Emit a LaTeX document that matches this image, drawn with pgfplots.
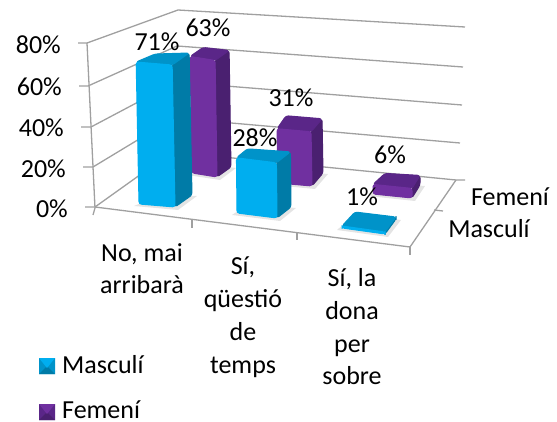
\documentclass[border=0pt]{standalone}
\usepackage{fontspec}
\setmainfont{Carlito}
\usepackage{pgfplots}
\pgfplotsset{compat=1.18}
\definecolor{gl}{HTML}{A0A0A0}
\definecolor{Mf}{HTML}{00AEEF}
\definecolor{Ms}{HTML}{007BA7}
\definecolor{Mt}{HTML}{0093C9}
\definecolor{Ff}{HTML}{7030A0}
\definecolor{Fs}{HTML}{4A2070}
\definecolor{Ft}{HTML}{5A2688}
\pgfplotsset{
  face/.style={fill=#1,draw=#1,line width=1pt,line join=round,rounded corners=2.5pt,no markers,forget plot},
  M front/.style={face=Mf}, M side/.style={face=Ms}, M top/.style={face=Mt},
  F front/.style={face=Ff}, F side/.style={face=Fs}, F top/.style={face=Ft},
  flat/.style={fill=#1,draw=none,no markers,forget plot},
  grid line/.style={draw=gl,line width=1.3pt,no markers,forget plot},
}
\def\getptaux#1/#2\relax#3{\expandafter\def\csname X#3\endcsname{#1}\expandafter\def\csname Y#3\endcsname{#2}}
\def\getpt#1#2{\getptaux#1\relax{#2}}
% #1 series, #2 value (percent), #3 px per percent, #4 lean per percent, #5-#8 floor corners FL FR BR BL
\newcommand\cubebar[8]{%
  \getpt{#5}{a}\getpt{#6}{b}\getpt{#7}{c}\getpt{#8}{d}%
  \pgfmathsetmacro\TXa{\Xa-#2*#4}\pgfmathsetmacro\TYa{\Ya-#2*#3}%
  \pgfmathsetmacro\TXb{\Xb-#2*#4}\pgfmathsetmacro\TYb{\Yb-#2*#3}%
  \pgfmathsetmacro\TXc{\Xc-#2*#4}\pgfmathsetmacro\TYc{\Yc-#2*#3}%
  \pgfmathsetmacro\TXd{\Xd-#2*#4}\pgfmathsetmacro\TYd{\Yd-#2*#3}%
  \pgfmathsetmacro\SXa{\Xa-5}\pgfmathsetmacro\SYa{\Ya+2}%
  \pgfmathsetmacro\SXb{\Xb+3}\pgfmathsetmacro\SYb{\Yb+3}%
  \pgfmathsetmacro\SXc{\Xc+5}\pgfmathsetmacro\SYc{\Yc+1}%
  \pgfmathsetmacro\MXf{(\Xa+\Xb)/2}\pgfmathsetmacro\MYf{(\Ya+\Yb)/2}%
  \pgfmathsetmacro\MXs{(\Xb+\Xc)/2}\pgfmathsetmacro\MYs{(\Yb+\Yc)/2}%
  \pgfmathsetmacro\MXt{(\TXa+\TXb)/2}\pgfmathsetmacro\MYt{(\TYa+\TYb)/2}%
  \addplot[fill=black!35,draw=none,opacity=.3,no markers,forget plot] coordinates {(\SXa,\SYa)(\SXb,\SYb)(\SXc,\SYc)(\Xd,\Yd)(\SXa,\SYa)};
  \addplot[#1 side] coordinates {(\MXs,\MYs)(\Xc,\Yc)(\TXc,\TYc)(\TXb,\TYb)(\Xb,\Yb)(\MXs,\MYs)};
  \addplot[#1 top] coordinates {(\MXt,\MYt)(\TXb,\TYb)(\TXc,\TYc)(\TXd,\TYd)(\TXa,\TYa)(\MXt,\MYt)};
  \addplot[#1 front] coordinates {(\MXf,\MYf)(\Xb,\Yb)(\TXb,\TYb)(\TXa,\TYa)(\Xa,\Ya)(\MXf,\MYf)};
}
\begin{document}
\begin{tikzpicture}[every node/.append style={font=\fontsize{26}{32.9}\selectfont,inner sep=0pt,text=black}]
\begin{axis}[
  scale only axis, width=557pt, height=422pt,
  xmin=0, xmax=557, ymin=0, ymax=422, y dir=reverse,
  hide axis, clip=false,
]
\path (axis cs:0,0) rectangle (axis cs:557,422);
% walls: left edge, left top, back top
\addplot[grid line] coordinates {(78,43)(87,43)(95,208)(93,215)};
\addplot[grid line] coordinates {(87,43)(178,10)(465,27)};
\addplot[grid line] coordinates {(79,86)(88,86)(177,46)(463,67)};
\addplot[grid line] coordinates {(81,127)(91,127)(176,82)(462,105)};
\addplot[grid line] coordinates {(83,167)(93,167)(174,118)(460,143)};
\addplot[grid line] coordinates {(85,207)(95,207)(172,152)(456,180)(465,180)};
% floor
\addplot[grid line] coordinates {(95,207)(410,247)(456,180)};
\addplot[grid line] coordinates {(192,220)(192,228)};
\addplot[grid line] coordinates {(297,233)(297,240)};
\addplot[grid line] coordinates {(410,247)(410,255)};
\addplot[grid line] coordinates {(434,210)(443,211)};
% Femení
\cubebar{F}{63}{1.85}{0.03}{192/173}{217/177}{231/167}{205/164}
\cubebar{F}{31}{1.75}{0.03}{278/183}{312/186}{323/173}{287/170}
\cubebar{F}{6}{1.6}{0}{373/194}{412/198}{420/185}{385/183}
% Masculí
\cubebar{M}{71}{2.0}{0.04}{139/204}{175/207}{192/195}{158/196}
\cubebar{M}{28}{1.97}{0.02}{237/213}{277/218}{291/207}{248/204}
\cubebar{M}{1}{2.0}{0}{342/228}{385/234}{396/219}{355/214}
% legend keys
\addplot[flat=Mt] coordinates {(39,358)(55,358)(55,374)(39,374)(39,358)};
\addplot[flat=Ms] coordinates {(39,374)(55,374)(47,366)(39,374)};
\addplot[flat=Mf] coordinates {(39,358)(55,358)(47,368)(39,358)};
\addplot[flat=Ft] coordinates {(39,404)(55,404)(55,420)(39,420)(39,404)};
\addplot[flat=Fs] coordinates {(39,420)(55,420)(47,412)(39,420)};
\addplot[flat=Ff] coordinates {(39,404)(55,404)(47,414)(39,404)};
% axis labels
\node[anchor=east] at (axis cs:61,45) {80\%};
\node[anchor=east] at (axis cs:62,87) {60\%};
\node[anchor=east] at (axis cs:64,128) {40\%};
\node[anchor=east] at (axis cs:66,169) {20\%};
\node[anchor=east] at (axis cs:68,209) {0\%};
% data labels
\node at (axis cs:157,42) {71\%};
\node at (axis cs:208,28) {63\%};
\node at (axis cs:255,138) {28\%};
\node at (axis cs:291,98) {31\%};
\node at (axis cs:390,155) {6\%};
\node at (axis cs:362,197) {1\%};
% depth labels
\node at (axis cs:510,197) {Femení};
\node at (axis cs:489,229) {Masculí};
% categories
\node[align=center,anchor=north] at (axis cs:142,243) {No, mai\\arribarà};
\node[align=center,anchor=north] at (axis cs:243,257) {Sí,\\qüestió\\de\\temps};
\node[align=center,anchor=north] at (axis cs:352,268) {Sí, la\\dona\\per\\sobre};
% legend text
\node[anchor=west] at (axis cs:62,365) {Masculí};
\node[anchor=west] at (axis cs:62,410) {Femení};
\end{axis}
\end{tikzpicture}
\end{document}
